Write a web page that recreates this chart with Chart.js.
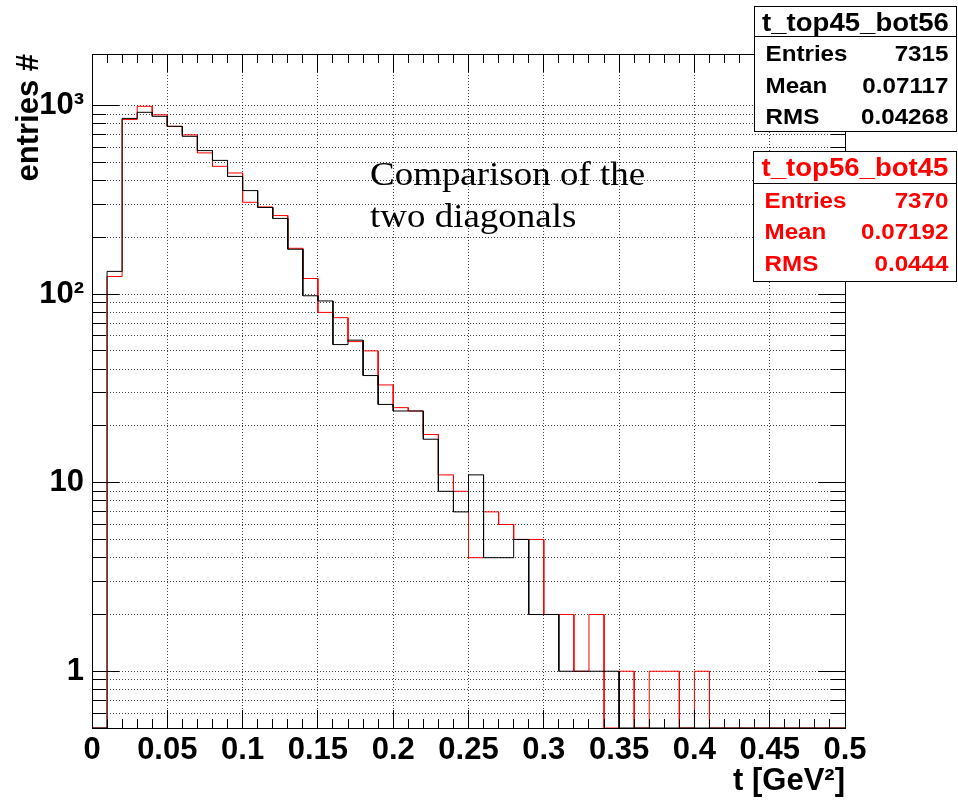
<!DOCTYPE html>
<html>
<head>
<meta charset="utf-8">
<script src="https://cdn.jsdelivr.net/npm/chart.js@4.4.1/dist/chart.umd.min.js"></script>
<style>
  html, body { margin: 0; padding: 0; background: #fff; }
  #wrap { position: relative; width: 958px; height: 800px; }
</style>
</head>
<body>
<div id="wrap"><canvas id="tChart"></canvas></div>
<script>
// t spectra for the two diagonals, 0.01 GeV^2 bins from 0 to 0.5
const binWidth = 0.01;
const top45bot56 = [0, 132, 855, 921, 877, 776, 687, 577, 512, 421,
  354, 288, 252, 173, 98, 92, 54, 57, 37, 26,
  24, 24, 17, 9, 7, 11, 4, 4, 5, 2,
  2, 1, 1, 1, 1, 0, 0, 0, 0, 0,
  0, 0, 0, 0, 0, 0, 0, 0, 0, 0];
const top56bot45 = [0, 124, 843, 991, 893, 776, 699, 561, 476, 439,
  307, 290, 261, 175, 121, 80, 75, 56, 50, 33,
  25, 24, 18, 11, 9, 4, 7, 6, 5, 5,
  2, 2, 1, 2, 0, 1, 0, 1, 1, 0,
  1, 0, 0, 0, 0, 0, 0, 0, 0, 0];

const xTicks = [0, 0.05, 0.1, 0.15, 0.2, 0.25, 0.3, 0.35, 0.4, 0.45, 0.5];
const xTickLabels = ['0', '0.05', '0.1', '0.15', '0.2', '0.25', '0.3', '0.35', '0.4', '0.45', '0.5'];
const yTicks = [1, 10, 100, 1000];
const yTickLabels = ['1', '10', '10\u00b2', '10\u00b3'];

// stat boxes
const statNames = ['t_top45_bot56', 't_top56_bot45'];
const statEntries = ['7315', '7370'];
const statMean = ['0.07117', '0.07192'];
const statRms = ['0.04268', '0.0444'];
const statColors = ['#000000', '#ff0000'];

const commentLines = ['Comparison of the', 'two diagonals'];

const Y_MIN = 0.5;
const Y_MAX = 1877;
const SANS = "'Liberation Sans', Arial, Helvetica, sans-serif";
const SERIF = "'Liberation Serif', 'Times New Roman', serif";

// two points per bin so the line traces the histogram outline
function histPoints(counts) {
  const pts = [];
  counts.forEach((n, i) => {
    const y = n > 0 ? n : Y_MIN; // empty bins lie on the axis floor
    pts.push({ x: i * binWidth, y: y }, { x: (i + 1) * binWidth, y: y });
  });
  return pts;
}

// 1..9 x 10^n values inside the axis range
function logGrid(min, max) {
  const vals = [];
  for (let e = -1; e <= 3; e++) {
    for (let m = 1; m <= 9; m++) {
      const v = +(m * Math.pow(10, e)).toPrecision(3);
      if (v >= min && v <= max) vals.push(v);
    }
  }
  return vals;
}

function align(px) {
  return Math.round(px - 0.5) + 0.5;
}

function wideText(ctx, text, x, y, textAlign, sx) {
  ctx.save();
  ctx.translate(x, y);
  ctx.scale(sx, 1);
  ctx.textAlign = textAlign;
  ctx.fillText(text, 0, 0);
  ctx.restore();
}

const rootFrame = {
  id: 'rootFrame',
  afterDatasetsDraw(chart) {
    const { ctx, chartArea: a, scales: { x, y } } = chart;
    ctx.save();
    ctx.strokeStyle = '#000';
    ctx.lineWidth = 1;
    ctx.beginPath();
    // inward ticks, bottom and top
    for (let i = 0; i <= 50; i++) {
      const px = align(x.getPixelForValue(i * binWidth));
      const len = i % 5 === 0 ? 18 : 9;
      ctx.moveTo(px, a.bottom);
      ctx.lineTo(px, a.bottom - len);
      ctx.moveTo(px, a.top);
      ctx.lineTo(px, a.top + len);
    }
    // inward ticks, left and right
    logGrid(Y_MIN, Y_MAX).forEach(v => {
      const py = align(y.getPixelForValue(v));
      const len = yTicks.includes(v) ? 27 : 14;
      ctx.moveTo(a.left, py);
      ctx.lineTo(a.left + len, py);
      ctx.moveTo(a.right, py);
      ctx.lineTo(a.right - len, py);
    });
    ctx.stroke();
    ctx.strokeRect(align(a.left), align(a.top), Math.round(a.right - a.left), Math.round(a.bottom - a.top));
    ctx.restore();
  },
  afterDraw(chart) {
    const ctx = chart.ctx;
    ctx.save();

    // comment text
    ctx.fillStyle = '#000';
    ctx.font = '33px ' + SERIF;
    ctx.textBaseline = 'alphabetic';
    wideText(ctx, commentLines[0], 370, 185, 'left', 1.12);
    wideText(ctx, commentLines[1], 370, 227, 'left', 1.12);

    // stat boxes
    const boxes = [
      { left: 754, top: 6.5, sep: 36.5, bottom: 131 },
      { left: 753, top: 151.5, sep: 183, bottom: 281.5 }
    ];
    boxes.forEach((b, k) => {
      const left = align(b.left), right = 956.5;
      ctx.fillStyle = '#fff';
      ctx.fillRect(left, b.top, right - left, b.bottom - b.top);
      ctx.strokeStyle = '#000';
      ctx.lineWidth = 1;
      ctx.strokeRect(left, align(b.top), right - left, Math.round(b.bottom - b.top));
      ctx.beginPath();
      ctx.moveTo(left, align(b.sep));
      ctx.lineTo(right, align(b.sep));
      ctx.stroke();

      ctx.fillStyle = statColors[k];
      ctx.font = 'bold 26px ' + SANS;
      wideText(ctx, statNames[k], (left + right) / 2, b.top + 24.5, 'center', 1.06);
      ctx.font = 'bold 22px ' + SANS;
      const rows = [['Entries', statEntries[k]], ['Mean', statMean[k]], ['RMS', statRms[k]]];
      rows.forEach((r, j) => {
        const by = b.sep + 24.5 + j * 31.5;
        wideText(ctx, r[0], left + 11, by, 'left', 1.1);
        wideText(ctx, r[1], right - 8, by, 'right', 1.1);
      });
    });
    ctx.restore();
  }
};

const gridStyle = { color: 'rgba(0,0,0,0.75)', lineWidth: 1, drawTicks: false };
const tickFont = { family: SANS, size: 31, weight: 'bold' };

new Chart(document.getElementById('tChart'), {
  type: 'line',
  data: {
    datasets: [{
      label: statNames[0],
      data: histPoints(top45bot56),
      borderColor: '#000000',
      borderWidth: 1,
      pointRadius: 0,
      fill: false,
      tension: 0,
      order: 0
    }, {
      label: statNames[1],
      data: histPoints(top56bot45),
      borderColor: '#ff0000',
      borderWidth: 1,
      pointRadius: 0,
      fill: false,
      tension: 0,
      order: 1
    }]
  },
  options: {
    responsive: true,
    maintainAspectRatio: false,
    animation: false,
    events: [],
    layout: { padding: { top: 54, right: 113, bottom: 0, left: 0 } },
    plugins: {
      legend: { display: false },
      tooltip: { enabled: false }
    },
    scales: {
      x: {
        type: 'linear',
        min: 0,
        max: 0.5,
        bounds: 'data',
        afterBuildTicks: s => { s.ticks = xTicks.map(v => ({ value: v })); },
        afterFit: s => { s.height = 72; },
        grid: gridStyle,
        border: { display: false, dash: [1, 2] },
        ticks: {
          callback: (v, i) => xTickLabels[i],
          font: tickFont,
          color: '#000',
          padding: 4,
          maxRotation: 0,
          autoSkip: false
        },
        title: {
          display: true,
          text: 't [GeV\u00b2]',
          align: 'end',
          color: '#000',
          font: tickFont,
          padding: { top: 0, bottom: 0 }
        }
      },
      y: {
        type: 'logarithmic',
        min: Y_MIN,
        max: Y_MAX,
        bounds: 'data',
        afterBuildTicks: s => { s.ticks = logGrid(Y_MIN, Y_MAX).map(v => ({ value: v })); },
        afterFit: s => { s.width = 92; },
        grid: gridStyle,
        border: { display: false, dash: [1, 2] },
        ticks: {
          callback: v => {
            const k = yTicks.indexOf(v);
            return k < 0 ? '' : yTickLabels[k];
          },
          font: tickFont,
          color: '#000',
          padding: 8,
          autoSkip: false
        },
        title: {
          display: true,
          text: 'entries #',
          align: 'end',
          color: '#000',
          font: tickFont,
          padding: { top: 11, bottom: 0 }
        }
      }
    }
  },
  plugins: [rootFrame]
});
</script>
</body>
</html>
